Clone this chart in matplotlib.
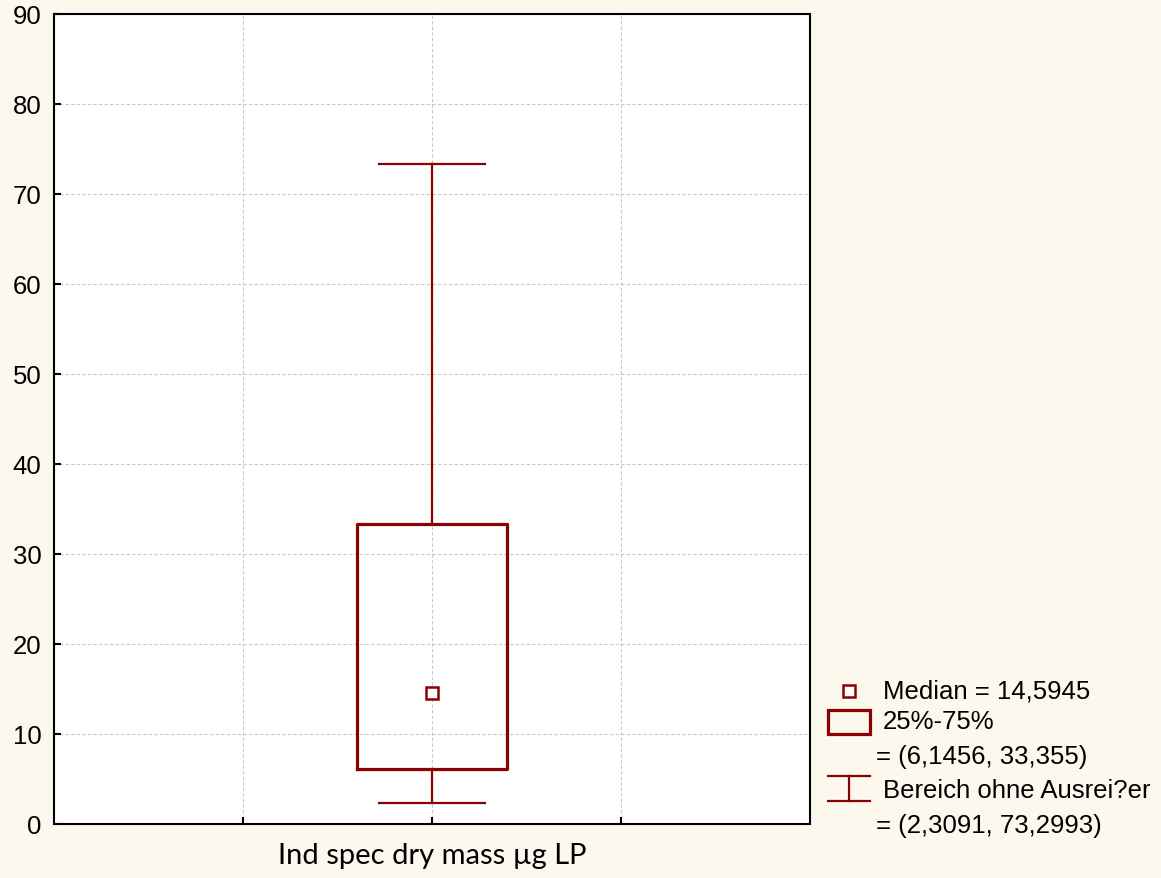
import matplotlib.pyplot as plt
from matplotlib.patches import Rectangle
from matplotlib.lines import Line2D

# summary values
median = 14.5945
q1, q3 = 6.1456, 33.355
wlo, whi = 2.3091, 73.2993
xlabel = 'Ind spec dry mass µg LP'
legend_lines = ['Median = 14,5945', '25%-75%', '= (6,1456, 33,355)',
                'Bereich ohne Ausrei?er', '= (2,3091, 73,2993)']

red = '#8b0000'
bg = '#fdf8ee'
W, H = 1161, 879

plt.rcParams['font.family'] = ['Liberation Sans', 'DejaVu Sans']

fig = plt.figure(figsize=(W / 100, H / 100), dpi=100, facecolor=bg)
ax = fig.add_axes([54 / W, 1 - 825 / H, (810 - 54) / W, (825 - 15) / H])
ax.set_facecolor('white')

stats = [dict(med=median, q1=q1, q3=q3, whislo=wlo, whishi=whi, fliers=[])]
ax.bxp(stats, positions=[2], widths=0.79, capwidths=0.56, showfliers=False,
       boxprops=dict(color=red, linewidth=2.3),
       whiskerprops=dict(color=red, linewidth=1.6),
       capprops=dict(color=red, linewidth=1.6),
       medianprops=dict(visible=False))
ax.plot([2], [median], marker='s', ms=9, mfc='white', mec=red, mew=1.8, ls='none')

ax.set_xlim(0, 4)
ax.set_ylim(0, 90)
ax.set_xticks([1, 2, 3])
ax.set_xticklabels([])
ax.set_yticks(range(0, 91, 10))
ax.tick_params(direction='in', length=5, width=1.5, labelsize=18.5, pad=9)
ax.grid(True, color='#c8c8c8', linestyle=(0, (3, 2)), linewidth=0.8)
ax.set_axisbelow(True)
for s in ax.spines.values():
    s.set_linewidth(1.5)
ax.set_xlabel(xlabel, family=['Lato', 'DejaVu Sans'], fontsize=21, labelpad=4)


def fx(px):
    return px / W


def fy(py):
    return 1 - py / H


# legend drawn by hand in figure coordinates
fig.add_artist(Line2D([fx(849)], [fy(692)], marker='s', ms=9, mfc='white',
                      mec=red, mew=1.8, transform=fig.transFigure))
fig.add_artist(Rectangle((fx(828), fy(735)), fx(870) - fx(828), fy(711) - fy(735),
                         fill=False, ec=red, lw=2.3, transform=fig.transFigure))
for yy in (777, 802):
    fig.add_artist(Line2D([fx(828), fx(870)], [fy(yy), fy(yy)], color=red, lw=1.6,
                          transform=fig.transFigure))
fig.add_artist(Line2D([fx(849), fx(849)], [fy(777), fy(802)], color=red, lw=1.6,
                      transform=fig.transFigure))

pos = [(883, 692), (883, 722), (876, 757), (883, 791), (876, 826)]
for (px, py), t in zip(pos, legend_lines):
    fig.text(fx(px), fy(py), t, fontsize=18.5, va='center', ha='left')

fig.savefig('out.png', dpi=100, facecolor=bg)
